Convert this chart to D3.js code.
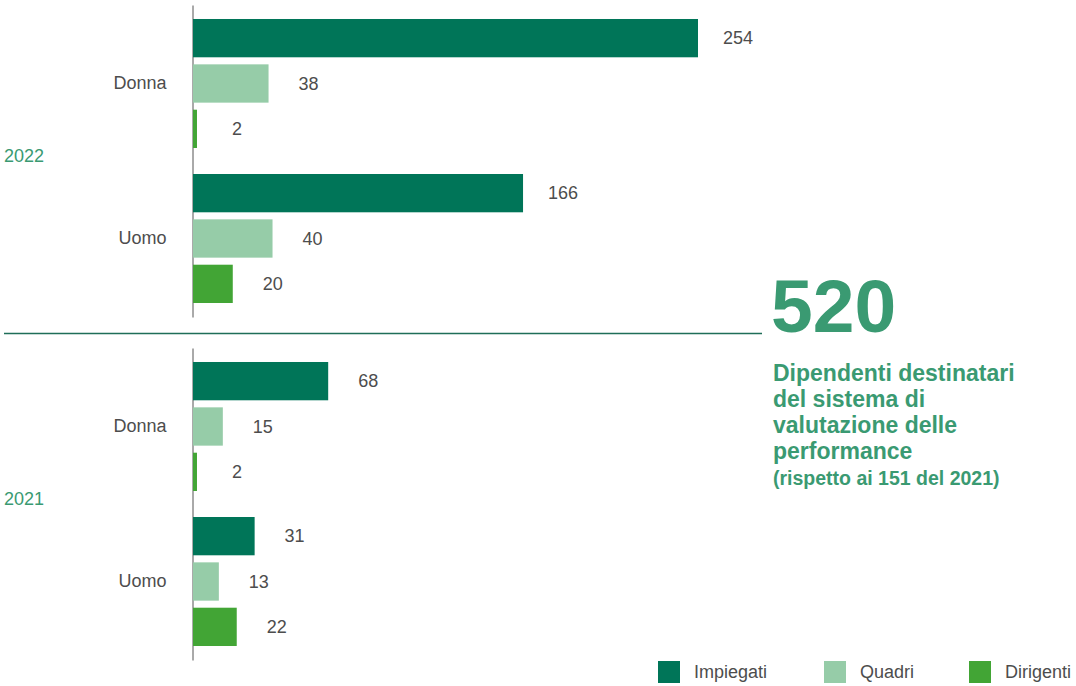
<!DOCTYPE html>
<html>
<head>
<meta charset="utf-8">
<script src="https://cdn.jsdelivr.net/npm/d3@7"></script>
<style>
  html, body { margin: 0; padding: 0; background: #fff; }
  svg { display: block; font-family: "Liberation Sans", Arial, sans-serif; }
</style>
</head>
<body>
<div id="chart"></div>
<script>
// data
var years = ['2022', '2021'];
var genders = ['Donna', 'Uomo'];
var seriesNames = ['Impiegati', 'Quadri', 'Dirigenti'];
// order: 2022 Donna, 2022 Uomo, 2021 Donna, 2021 Uomo
var impiegati = [254, 166, 68, 31];
var quadri = [38, 40, 15, 13];
var dirigenti = [2, 20, 2, 22];

var totalValue = '520';
var noteLines = ['Dipendenti destinatari', 'del sistema di', 'valutazione delle', 'performance'];
var noteSub = '(rispetto ai 151 del 2021)';

// size
var width = 1076;
var height = 686;

// colors
var seriesColors = ['#007558', '#96cca8', '#42a535'];
var accent = '#3a9a72';
var textColor = '#4d4d4d';

var svg = d3.select('#chart').append('svg')
  .attr('width', width).attr('height', height);

// rows from arrays
var rows = [];
years.forEach(function(y, yi) {
  genders.forEach(function(g, gi) {
    var k = yi * genders.length + gi;
    rows.push({year: y, gender: g, values: [impiegati[k], quadri[k], dirigenti[k]]});
  });
});

// scales
var x = d3.scaleLinear().domain([0, 254]).range([193, 698]);
var yYear = d3.scaleBand().domain(years).range([5, 660]).paddingInner(31 / 343);
var yGender = d3.scaleBand().domain(genders).range([0, yYear.bandwidth()])
  .paddingInner(26 / 155).paddingOuter(0.0903);
var ySeries = d3.scaleBand().domain(d3.range(seriesNames.length)).range([0, yGender.bandwidth()])
  .paddingInner(7 / 45);

// one panel per year
var panels = svg.selectAll('.panel').data(years).enter()
  .append('g')
  .attr('class', 'panel')
  .attr('transform', function(d) { return 'translate(0,' + yYear(d) + ')'; });

// year label
panels.append('text')
  .attr('x', 4)
  .attr('y', yYear.bandwidth() / 2 - 5)
  .attr('dy', '0.35em')
  .attr('fill', accent)
  .attr('font-size', 18)
  .text(function(d) { return d; });

// gender axis
panels.append('g')
  .attr('transform', 'translate(192.5,0)')
  .each(function() {
    var ax = d3.select(this).call(d3.axisLeft(yGender).tickSize(0).tickSizeOuter(0).tickPadding(26));
    ax.select('.domain').attr('stroke', '#555').attr('stroke-width', 1);
    ax.selectAll('text').attr('fill', textColor).attr('font-size', 18)
      .attr('font-family', '"Liberation Sans", Arial, sans-serif');
  });

// bar groups
var groups = panels.selectAll('.grp')
  .data(function(y) { return rows.filter(function(r) { return r.year === y; }); })
  .enter()
  .append('g')
  .attr('class', 'grp')
  .attr('transform', function(d) { return 'translate(0,' + yGender(d.gender) + ')'; });

groups.selectAll('rect')
  .data(function(d) { return d.values; })
  .enter()
  .append('rect')
  .attr('x', x(0))
  .attr('y', function(d, i) { return ySeries(i); })
  .attr('width', function(d) { return x(d) - x(0); })
  .attr('height', ySeries.bandwidth())
  .attr('fill', function(d, i) { return seriesColors[i]; });

groups.selectAll('.val')
  .data(function(d) { return d.values; })
  .enter()
  .append('text')
  .attr('class', 'val')
  .attr('x', function(d) { return x(d) + 40; })
  .attr('y', function(d, i) { return ySeries(i) + ySeries.bandwidth() / 2; })
  .attr('dy', '0.35em')
  .attr('text-anchor', 'middle')
  .attr('fill', textColor)
  .attr('font-size', 18)
  .text(function(d) { return d; });

// separator between years
svg.append('line')
  .attr('x1', 4).attr('x2', 762)
  .attr('y1', 333.5).attr('y2', 333.5)
  .attr('stroke', '#1f6e58')
  .attr('stroke-width', 1.5);

// big number and note
var note = svg.append('g');
note.append('text')
  .attr('x', 771)
  .attr('y', 332)
  .attr('fill', accent)
  .attr('font-size', 75)
  .attr('font-weight', 'bold')
  .text(totalValue);

note.selectAll('.line').data(noteLines).enter()
  .append('text')
  .attr('class', 'line')
  .attr('x', 773)
  .attr('y', function(d, i) { return 381 + i * 26; })
  .attr('fill', accent)
  .attr('font-size', 23)
  .attr('font-weight', 'bold')
  .text(function(d) { return d; });

note.append('text')
  .attr('x', 773)
  .attr('y', 485)
  .attr('fill', accent)
  .attr('font-size', 19.5)
  .attr('font-weight', 'bold')
  .text(noteSub);

// legend
var legendX = [658, 824, 969];
var legend = svg.selectAll('.legend').data(seriesNames).enter()
  .append('g')
  .attr('class', 'legend')
  .attr('transform', function(d, i) { return 'translate(' + legendX[i] + ',661)'; });

legend.append('rect')
  .attr('width', 22).attr('height', 22)
  .attr('fill', function(d, i) { return seriesColors[i]; });

legend.append('text')
  .attr('x', 36)
  .attr('y', 11)
  .attr('dy', '0.35em')
  .attr('fill', textColor)
  .attr('font-size', 18)
  .text(function(d) { return d; });
</script>
</body>
</html>
